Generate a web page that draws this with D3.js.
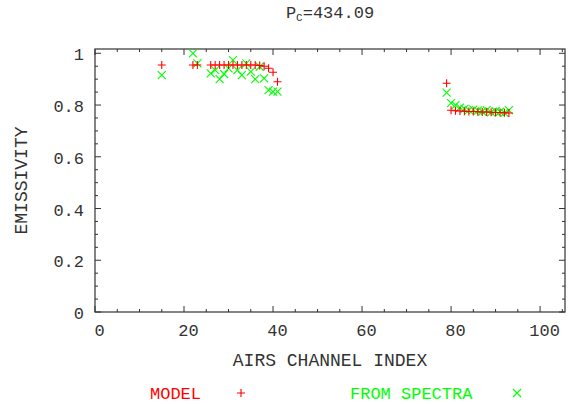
<!DOCTYPE html>
<html>
<head>
<meta charset="utf-8">
<script src="https://cdn.jsdelivr.net/npm/d3@7"></script>
<style>
  body { margin: 0; background: #fff; }
  text { font-family: "Courier New", "Liberation Mono", monospace; }
</style>
</head>
<body>
<svg id="chart" width="568" height="404"></svg>
<script>
// channel indices and emissivities
const channels = [15, 22, 23, 26, 27, 28, 29, 30, 31, 32, 33, 34, 35, 36, 37, 38, 39, 40, 41,
  79, 80, 81, 82, 83, 84, 85, 86, 87, 88, 89, 90, 91, 92, 93];
const modelValues = [0.955, 0.955, 0.955, 0.955, 0.955, 0.955, 0.955, 0.955, 0.955, 0.955,
  0.955, 0.955, 0.955, 0.955, 0.953, 0.95, 0.942, 0.927, 0.89,
  0.884, 0.78, 0.778, 0.777, 0.776, 0.775, 0.775, 0.774, 0.773, 0.773, 0.772, 0.771, 0.771, 0.77, 0.769];
const spectraValues = [0.916, 1.0, 0.961, 0.922, 0.935, 0.9, 0.92, 0.942, 0.974, 0.935,
  0.916, 0.961, 0.929, 0.9, 0.948, 0.903, 0.858, 0.852, 0.852,
  0.848, 0.807, 0.8, 0.79, 0.785, 0.78, 0.782, 0.778, 0.775, 0.78, 0.772, 0.776, 0.774, 0.77, 0.78];
const xTicks = [0, 20, 40, 60, 80, 100];
const yTicks = [0, 0.2, 0.4, 0.6, 0.8, 1];
const titleMain = "P";
const titleSub = "C";
const titleRest = "=434.09";
const xLabel = "AIRS CHANNEL INDEX";
const yLabel = "EMISSIVITY";
const legendNames = ["MODEL", "FROM SPECTRA"];

const margin = { top: 49, right: 3, bottom: 92, left: 95 };
const width = 568 - margin.left - margin.right;
const height = 404 - margin.top - margin.bottom;

const svg = d3.select("#chart");
const g = svg.append("g").attr("transform", `translate(${margin.left},${margin.top})`);

const xScale = d3.scaleLinear().domain([0, 105.6]).range([0, width]);
const yScale = d3.scaleLinear().domain([0, 1.0166]).range([height, 0]);

const axisColor = "#333";
const textColor = "#333";
const xMinor = d3.range(0, 105.6, 5);
const yMinor = d3.range(0, 1.0166, 0.05).map((d) => +d.toFixed(2));

// frame
g.append("rect")
  .attr("width", width)
  .attr("height", height)
  .attr("fill", "none")
  .attr("stroke", axisColor)
  .attr("stroke-width", 1.2);

// ticks on all four sides, pointing inward
const isMajorX = (d) => d % 20 === 0;
const isMajorY = (d) => Math.abs(Math.round(d * 5) - d * 5) < 1e-6;

g.selectAll(".xtick-b").data(xMinor).enter().append("line")
  .attr("x1", (d) => xScale(d)).attr("x2", (d) => xScale(d))
  .attr("y1", height).attr("y2", (d) => height - (isMajorX(d) ? 6 : 3))
  .attr("stroke", axisColor);
g.selectAll(".xtick-t").data(xMinor).enter().append("line")
  .attr("x1", (d) => xScale(d)).attr("x2", (d) => xScale(d))
  .attr("y1", 0).attr("y2", (d) => (isMajorX(d) ? 6 : 3))
  .attr("stroke", axisColor);
g.selectAll(".ytick-l").data(yMinor).enter().append("line")
  .attr("y1", (d) => yScale(d)).attr("y2", (d) => yScale(d))
  .attr("x1", 0).attr("x2", (d) => (isMajorY(d) ? 6 : 3))
  .attr("stroke", axisColor);
g.selectAll(".ytick-r").data(yMinor).enter().append("line")
  .attr("y1", (d) => yScale(d)).attr("y2", (d) => yScale(d))
  .attr("x1", width).attr("x2", (d) => width - (isMajorY(d) ? 6 : 3))
  .attr("stroke", axisColor);

// tick labels
g.selectAll(".xlab").data(xTicks).enter().append("text")
  .attr("x", (d) => xScale(d) + 4.5)
  .attr("y", height + 24)
  .attr("text-anchor", "middle")
  .attr("font-size", 17)
  .attr("fill", textColor)
  .text((d) => d);
g.selectAll(".ylab").data(yTicks).enter().append("text")
  .attr("x", -11)
  .attr("y", (d) => yScale(d) + 7)
  .attr("text-anchor", "end")
  .attr("font-size", 17)
  .attr("fill", textColor)
  .text((d) => d);

// axis titles
g.append("text")
  .attr("x", width / 2)
  .attr("y", height + 54)
  .attr("text-anchor", "middle")
  .attr("font-size", 18)
  .attr("fill", textColor)
  .text(xLabel);
g.append("text")
  .attr("transform", `translate(${-68},${height / 2}) rotate(-90)`)
  .attr("text-anchor", "middle")
  .attr("font-size", 18)
  .attr("fill", textColor)
  .text(yLabel);

// title with subscript
const title = svg.append("text")
  .attr("x", margin.left + width / 2)
  .attr("y", 18)
  .attr("text-anchor", "middle")
  .attr("font-size", 17)
  .attr("fill", textColor);
title.append("tspan").text(titleMain);
title.append("tspan").attr("font-size", 11).attr("dy", 3).text(titleSub);
title.append("tspan").attr("dy", -3).text(titleRest);

// markers
const plusPath = (x, y, r) => `M${x - r},${y}H${x + r}M${x},${y - r}V${y + r}`;
const crossPath = (x, y, r) => `M${x - r},${y - r}L${x + r},${y + r}M${x - r},${y + r}L${x + r},${y - r}`;

const spectra = channels.map((c, i) => ({ ch: c, v: spectraValues[i] }));
const model = channels.map((c, i) => ({ ch: c, v: modelValues[i] }));

g.selectAll(".spectra").data(spectra).enter().append("path")
  .attr("d", (d) => crossPath(xScale(d.ch), yScale(d.v), 4))
  .attr("stroke", "#00ff00")
  .attr("stroke-width", 1.1)
  .attr("fill", "none");
g.selectAll(".model").data(model).enter().append("path")
  .attr("d", (d) => plusPath(xScale(d.ch), yScale(d.v), 4))
  .attr("stroke", "#ff0000")
  .attr("stroke-width", 1.1)
  .attr("fill", "none");

// legend
const legendY = 399;
svg.append("text")
  .attr("x", 150).attr("y", legendY)
  .attr("font-size", 17)
  .attr("fill", "#ff0000")
  .text(legendNames[0]);
svg.append("path")
  .attr("d", plusPath(241, legendY - 6, 4))
  .attr("stroke", "#ff0000")
  .attr("stroke-width", 1.1);
svg.append("text")
  .attr("x", 350).attr("y", legendY)
  .attr("font-size", 17)
  .attr("fill", "#00ff00")
  .text(legendNames[1]);
svg.append("path")
  .attr("d", crossPath(517, legendY - 6, 4))
  .attr("stroke", "#00ff00")
  .attr("stroke-width", 1.1);
</script>
</body>
</html>
